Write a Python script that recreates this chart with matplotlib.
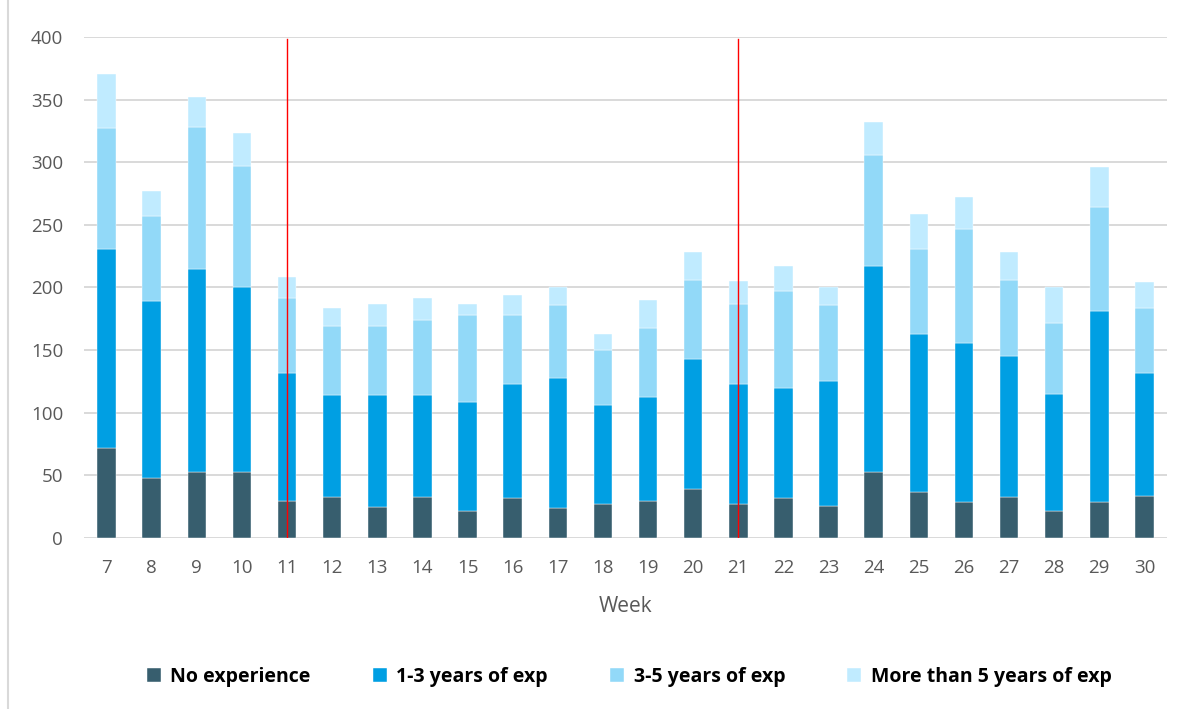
import numpy as np
import matplotlib.pyplot as plt
from matplotlib.lines import Line2D

plt.rcParams['font.family'] = ['Open Sans', 'DejaVu Sans']

weeks = [7, 8, 9, 10, 11, 12, 13, 14, 15, 16, 17, 18,
         19, 20, 21, 22, 23, 24, 25, 26, 27, 28, 29, 30]
no_exp = [72, 48, 53, 53, 30, 33, 25, 33, 22, 32, 24, 27,
          30, 39, 27, 32, 26, 53, 37, 29, 33, 22, 29, 34]
exp_1_3 = [159, 141, 162, 147, 102, 81, 89, 81, 87, 91, 104, 79,
           83, 104, 96, 88, 99, 164, 126, 127, 112, 93, 152, 98]
exp_3_5 = [96, 68, 113, 97, 60, 55, 55, 60, 69, 55, 58, 44,
           55, 63, 64, 77, 61, 89, 68, 91, 61, 57, 83, 52]
exp_5_plus = [43, 20, 24, 26, 16, 15, 18, 18, 9, 16, 14, 13,
              22, 22, 18, 20, 14, 26, 28, 25, 22, 28, 32, 20]
marked_weeks = [11, 21]

series = [
    ("No experience", no_exp, "#375E6E"),
    ("1-3 years of exp", exp_1_3, "#009FE3"),
    ("3-5 years of exp", exp_3_5, "#92D9F8"),
    ("More than 5 years of exp", exp_5_plus, "#C0EBFF"),
]

fig = plt.figure(figsize=(11.92, 7.09), dpi=100)
ax = fig.add_axes([0.0705, 0.241, 0.9085, 0.707])

x = np.arange(len(weeks))
bottom = np.zeros(len(weeks))
handles = []
for label, vals, color in series:
    b = ax.bar(x, vals, width=0.41, bottom=bottom, color=color,
               edgecolor='white', linewidth=0.3, label=label, zorder=3)
    bottom += np.array(vals)
    handles.append(b)

for w in marked_weeks:
    ax.plot([weeks.index(w), weeks.index(w)], [0, 398], color='red',
            linewidth=1, zorder=4)

ax.set_xlim(-0.5, len(weeks) - 0.5)
ax.set_ylim(0, 400)
ax.set_yticks(range(0, 401, 50))
ax.set_xticks(x)
ax.set_xticklabels([str(w) for w in weeks])
ax.grid(axis='y', color='#D9D9D9', linewidth=1.4, zorder=0)
ax.set_axisbelow(True)
for s in ax.spines.values():
    s.set_visible(False)
ax.tick_params(length=0, labelsize=13.5, labelcolor='#595959')
ax.tick_params(axis='y', pad=15)
ax.tick_params(axis='x', pad=15)
ax.set_xlabel('Week', fontsize=15, color='#595959', labelpad=14)

fig.legend(handles=handles, loc='center', ncol=4,
           bbox_to_anchor=(0.528, 1 - 677 / 709), frameon=False,
           prop={'weight': 'bold', 'size': 14}, handlelength=0.7,
           handleheight=0.7, handletextpad=0.5, columnspacing=3.2)

# thin frame line down the left edge
fig.add_artist(Line2D([8 / 1192, 8 / 1192], [0, 1], transform=fig.transFigure,
                      color='#D9D9D9', linewidth=1.5))

fig.savefig('out.png', dpi=100)
